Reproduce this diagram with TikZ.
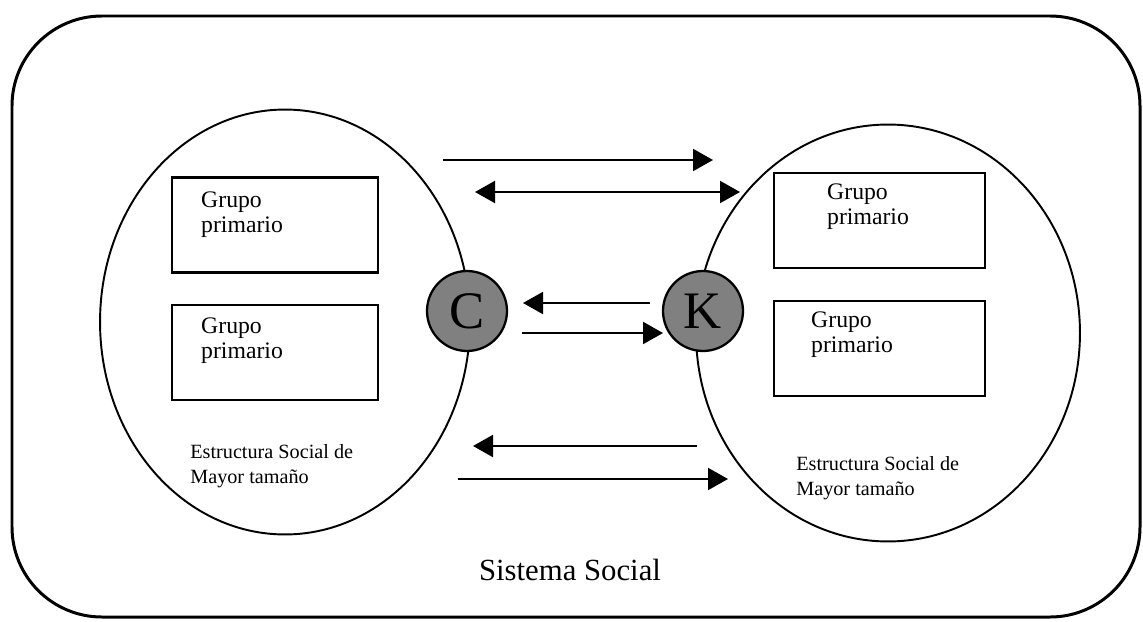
\documentclass[tikz,border=0pt]{standalone}
\usepackage{fontspec}
\setmainfont{Liberation Serif}
\usetikzlibrary{shapes.geometric}
\usetikzlibrary{arrows.meta}

\begin{document}
\begin{tikzpicture}[x=0.02cm,y=-0.02cm]
\tikzstyle{flecha}=[-{Triangle[length=4mm,width=4.4mm]},line width=1.2pt]
\tikzset{estructura/.style={draw,ellipse,line width=1.1pt},
caja/.style={draw,line width=1.3pt,minimum width=#1,minimum height=1.9cm},
caja/.default={4.12cm},
grupo/.style={anchor=north west,inner sep=0pt,align=left,font=\fontsize{13.5}{14}\selectfont},
leyenda/.style={anchor=north west,inner sep=0pt,align=left,font=\fontsize{11.5}{14.5}\selectfont},
enlace/.style={draw,circle,line width=1.3pt,fill=black!50,minimum size=1.6cm,inner sep=0pt,font=\fontsize{30}{30}\selectfont}}
\useasboundingbox (0,0) rectangle (1143,622);
% sistema social
\draw[line width=1.7pt,rounded corners=1.8cm] (12,16) rectangle (1140,617);
\node[font=\fontsize{17.5}{20}\selectfont] (sistema) at (570,570) {Sistema Social};
% estructuras
\node[estructura,minimum width=7.4cm,minimum height=8.5cm] (izq) at (285,322) {};
\node[estructura,minimum width=7.68cm,minimum height=8.34cm] (der) at (888,333) {};
% grupos primarios
\node[caja] (gi1) at (275,225) {};
\node[caja] (gi2) at (275,352.5) {};
\node[caja=4.22cm] (gd1) at (879.5,220.5) {};
\node[caja=4.22cm] (gd2) at (879.5,348.5) {};
\node[grupo] (ti1) at ([shift={(30,15)}]gi1.north west) {Grupo\\primario};
\node[grupo] (ti2) at ([shift={(30,14)}]gi2.north west) {Grupo\\primario};
\node[grupo] (td1) at ([shift={(54,12)}]gd1.north west) {Grupo\\primario};
\node[grupo] (td2) at ([shift={(38,12)}]gd2.north west) {Grupo\\primario};
\node[leyenda] (ei) at (190,444) {Estructura Social de\\Mayor tamaño};
\node[leyenda] (ed) at (796,456) {Estructura Social de\\Mayor tamaño};
% C y K
\node[enlace] (C) at (467,311) {C};
\node[enlace] (K) at (703,311) {K};
% flechas
\coordinate (a1) at (443,160); \coordinate (b1) at (713,160);
\coordinate (a2) at (475,192); \coordinate (b2) at (740,192);
\coordinate (a3) at (650,303); \coordinate (b3) at (523,303);
\coordinate (a4) at (522,333); \coordinate (b4) at (663,333);
\coordinate (a5) at (697,446); \coordinate (b5) at (473,446);
\coordinate (a6) at (458,479); \coordinate (b6) at (728,479);
\draw[flecha] (a1) -- (b1);
\draw[flecha,{Triangle[length=4mm,width=4.4mm]}-{Triangle[length=4mm,width=4.4mm]}] (a2) -- (b2);
\draw[flecha] (a3) -- (b3);
\draw[flecha] (a4) -- (b4);
\draw[flecha] (a5) -- (b5);
\draw[flecha] (a6) -- (b6);
\end{tikzpicture}
\end{document}
